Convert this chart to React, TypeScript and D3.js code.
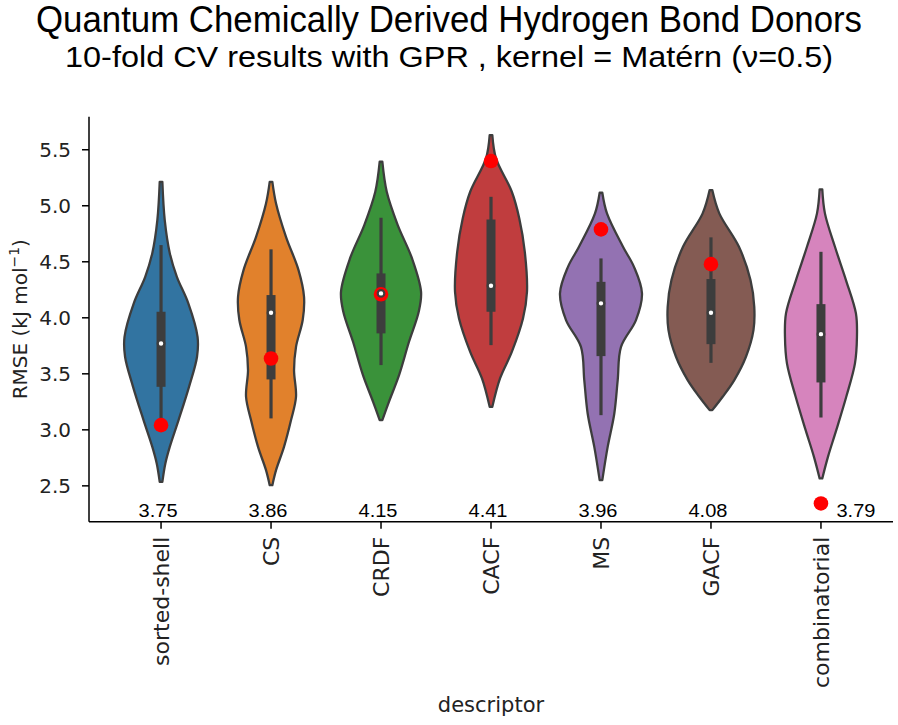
import React from 'react'
import * as d3 from 'd3'

const width = 898
const height = 725
const margin = { top: 116.7, right: 5, bottom: 203.3, left: 89 }

const categories = ['sorted-shell', 'CS', 'CRDF', 'CACF', 'MS', 'GACF', 'combinatorial']
const colors = ['#3274a1', '#e1812c', '#3a923a', '#c03d3e', '#9372b2', '#845b53', '#d684bd']
const meanLabels = ['3.75', '3.86', '4.15', '4.41', '3.96', '4.08', '3.79']

// red markers
const testRmse = [3.042, 3.637, 4.21, 5.399, 4.789, 4.479, 2.343]

// inner box
const medians = [3.771, 4.045, 4.218, 4.286, 4.129, 4.045, 3.854]
const q1 = [3.384, 3.45, 3.861, 4.054, 3.658, 3.765, 3.423]
const q3 = [4.054, 4.203, 4.396, 4.878, 4.321, 4.346, 4.122]
const whiskerLow = [3.05, 3.102, 3.578, 3.756, 3.131, 3.598, 3.11]
const whiskerHigh = [4.649, 4.611, 4.893, 5.08, 4.53, 4.718, 4.589]

// density profiles: [RMSE, relative half width]
const sortedShellDensity = [
  [5.214, 0.03], [4.872, 0.084], [4.575, 0.2], [4.366, 0.36], [4.129, 0.62], [3.83, 0.83],
  [3.652, 0.818], [3.384, 0.636], [3.087, 0.398], [2.848, 0.198], [2.7, 0.098], [2.536, 0.03]
]
const csDensity = [
  [5.214, 0.03], [5.021, 0.114], [4.723, 0.34], [4.426, 0.625], [4.188, 0.75], [3.98, 0.72],
  [3.741, 0.568], [3.533, 0.523], [3.295, 0.568], [3.087, 0.455], [2.848, 0.295], [2.64, 0.114], [2.506, 0.03]
]
const crdfDensity = [
  [5.393, 0.03], [5.125, 0.13], [4.828, 0.38], [4.53, 0.705], [4.232, 0.91], [4.054, 0.857],
  [3.786, 0.636], [3.488, 0.41], [3.25, 0.18], [3.087, 0.03]
]
const cacfDensity = [
  [5.631, 0.03], [5.423, 0.114], [5.125, 0.473], [4.887, 0.643], [4.589, 0.768], [4.232, 0.818],
  [3.994, 0.727], [3.696, 0.473], [3.459, 0.205], [3.205, 0.03]
]
const msDensity = [
  [5.116, 0.03], [4.932, 0.136], [4.634, 0.5], [4.455, 0.75], [4.218, 0.932], [3.98, 0.795],
  [3.741, 0.455], [3.444, 0.38], [3.146, 0.303], [2.848, 0.152], [2.551, 0.03]
]
const gacfDensity = [
  [5.14, 0.03], [4.932, 0.189], [4.634, 0.636], [4.337, 0.898], [4.098, 0.984], [3.89, 0.966],
  [3.652, 0.795], [3.444, 0.53], [3.295, 0.266], [3.176, 0.03]
]
const combinatorialDensity = [
  [5.146, 0.03], [4.932, 0.09], [4.634, 0.318], [4.337, 0.568], [4.039, 0.795], [3.83, 0.818],
  [3.593, 0.773], [3.295, 0.575], [2.997, 0.348], [2.759, 0.159], [2.566, 0.03]
]
const densities = [sortedShellDensity, csDensity, crdfDensity, cacfDensity, msDensity, gacfDensity, combinatorialDensity]

const yDomain = [2.18, 5.795]

const edge = '#3d3d3d'
const tickFont = 'DejaVu Sans, sans-serif'
const titleFont = 'Liberation Sans, Arial, sans-serif'

const App = () => {
  const x = d3
    .scaleBand()
    .domain(categories)
    .range([margin.left, width - margin.right])
    .paddingInner(0)
    .paddingOuter(0.155)
  const cx = (c) => x(c) + x.bandwidth() / 2

  const y = d3.scaleLinear().domain(yDomain).range([height - margin.bottom, margin.top])
  const w = d3.scaleLinear().domain([0, 1]).range([0, x.bandwidth() * 0.4])

  const yTicks = y.ticks(7)
  const fmt = d3.format('.1f')
  const x0 = margin.left
  const x1 = width - margin.right
  const yb = height - margin.bottom

  return (
    <svg width={width} height={height} style={{ position: 'absolute', left: 0, top: 0, background: '#fff' }}>
      <text x={449} y={32} textAnchor="middle" fontFamily={titleFont} fontSize={36} textLength={826} lengthAdjust="spacingAndGlyphs">
        Quantum Chemically Derived Hydrogen Bond Donors
      </text>
      <text x={449} y={67} textAnchor="middle" fontFamily={titleFont} fontSize={29} textLength={768} lengthAdjust="spacingAndGlyphs">
        10-fold CV results with GPR , kernel = Matérn (ν=0.5)
      </text>

      {categories.map((c, i) => {
        const area = d3
          .area()
          .y((d) => y(d[0]))
          .x0((d) => cx(c) - w(d[1]))
          .x1((d) => cx(c) + w(d[1]))
          .curve(d3.curveCatmullRom.alpha(0.5))
        return (
          <g key={c}>
            <path d={area(densities[i])} fill={colors[i]} stroke={edge} strokeWidth={2.3} strokeLinejoin="round" />
            <line x1={cx(c)} x2={cx(c)} y1={y(whiskerLow[i])} y2={y(whiskerHigh[i])} stroke={edge} strokeWidth={3.2} />
            <line x1={cx(c)} x2={cx(c)} y1={y(q1[i])} y2={y(q3[i])} stroke={edge} strokeWidth={9} />
          </g>
        )
      })}

      {categories.map((c, i) => (
        <circle key={'r' + c} cx={cx(c)} cy={y(testRmse[i])} r={7.3} fill="#ff0000" />
      ))}

      {categories.map((c, i) => (
        <circle key={'m' + c} cx={cx(c)} cy={y(medians[i])} r={3.3} fill="#fff" stroke={edge} strokeWidth={2.2} />
      ))}

      {categories.map((c, i) => (
        <text
          key={'t' + c}
          x={cx(c) + (i === categories.length - 1 ? 35 : -3)}
          y={517}
          textAnchor="middle"
          fontFamily={titleFont}
          fontSize={19}
          textLength={39}
          lengthAdjust="spacingAndGlyphs"
        >
          {meanLabels[i]}
        </text>
      ))}

      {/* axes */}
      <line x1={x0} x2={x0} y1={margin.top} y2={yb} stroke="#000" strokeWidth={1.5} />
      <line x1={x0} x2={x1} y1={yb} y2={yb} stroke="#000" strokeWidth={1.5} />

      {yTicks.map((t) => (
        <g key={'yt' + t}>
          <line x1={x0 - 7} x2={x0} y1={y(t)} y2={y(t)} stroke="#000" strokeWidth={1.5} />
          <text x={x0 - 18} y={y(t)} dy="0.36em" textAnchor="end" fontFamily={tickFont} fontSize={20} fill="#222">
            {fmt(t)}
          </text>
        </g>
      ))}

      {categories.map((c) => (
        <g key={'xt' + c}>
          <line x1={cx(c)} x2={cx(c)} y1={yb} y2={yb + 7} stroke="#000" strokeWidth={1.5} />
          <text
            transform={`translate(${cx(c)},${yb + 15}) rotate(-90)`}
            dy="0.36em"
            textAnchor="end"
            fontFamily={tickFont}
            fontSize={22}
            fill="#222"
          >
            {c}
          </text>
        </g>
      ))}

      <text transform={`translate(27,${(margin.top + yb) / 2}) rotate(-90)`} textAnchor="middle" fontFamily={tickFont} fontSize={20} fill="#222">
        RMSE (kJ mol
        <tspan fontSize={14} dy={-8}>−1</tspan>
        <tspan dy={8}>)</tspan>
      </text>
      <text x={(x0 + x1) / 2} y={712} textAnchor="middle" fontFamily={tickFont} fontSize={21} fill="#222">
        descriptor
      </text>
    </svg>
  )
}

export default App
